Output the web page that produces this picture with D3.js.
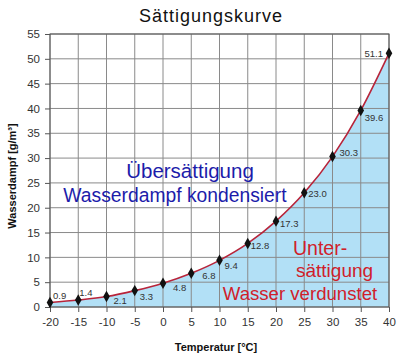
<!DOCTYPE html>
<meta charset="utf-8">
<head>
    <title>Sättigungskurve</title>
    <script src="https://cdn.jsdelivr.net/npm/d3@7"></script>
    <style>
        body { margin: 0; background: #fff; }
        text { font-family: Arial, "Liberation Sans", sans-serif; }
    </style>
</head>
<body>
<script>

// data
var temps = [-20, -15, -10, -5, 0, 5, 10, 15, 20, 25, 30, 35, 40]
var vapour = [0.9, 1.4, 2.1, 3.3, 4.8, 6.8, 9.4, 12.8, 17.3, 23.0, 30.3, 39.6, 51.1]
var xTicks = [-20, -15, -10, -5, 0, 5, 10, 15, 20, 25, 30, 35, 40]
var yTicks = [0, 5, 10, 15, 20, 25, 30, 35, 40, 45, 50, 55]

// label offsets (layout only), text start relative to marker
var labOff = [[3,-7],[1,-7],[7,4],[5,6],[10,5],[11,2],[5,5],[3,2],[4,3],[4,1],[7,-4],[4,7],[-6,0]]

var w = 400
var h = 356
var svg = d3.select("body").append("svg").attr("width", w).attr("height", h)

var x = d3.scaleLinear().domain([-20, 40]).range([50, 389])
var y = d3.scaleLinear().domain([0, 55]).range([307, 34])

var pts = temps.map(function(t, i) { return [t, vapour[i]] })

// area under curve
var area = d3.area()
    .x(function(d) { return x(d[0]) })
    .y0(y(0))
    .y1(function(d) { return y(d[1]) })
    .curve(d3.curveMonotoneX)
svg.append("path").attr("d", area(pts)).style("fill", "#b2e0f6")

// grid
svg.append("g").selectAll("line").data(xTicks).enter().append("line")
    .attr("x1", function(d) { return x(d) }).attr("x2", function(d) { return x(d) })
    .attr("y1", y(0)).attr("y2", y(55))
    .style("stroke", "#8a8a8a").style("stroke-width", 1)
svg.append("g").selectAll("line").data(yTicks).enter().append("line")
    .attr("x1", x(-20)).attr("x2", x(40))
    .attr("y1", function(d) { return y(d) }).attr("y2", function(d) { return y(d) })
    .style("stroke", "#8a8a8a").style("stroke-width", 1)

// border
svg.append("rect")
    .attr("x", x(-20)).attr("y", y(55))
    .attr("width", x(40) - x(-20)).attr("height", y(0) - y(55))
    .style("fill", "none").style("stroke", "#555").style("stroke-width", 1)

// axes
var fmt = function(d) { return String(d) }
svg.append("g").attr("transform", "translate(0," + y(0) + ")")
    .call(d3.axisBottom(x).tickValues(xTicks).tickFormat(fmt).tickSize(5).tickPadding(6))
svg.append("g").attr("transform", "translate(" + x(-20) + ",0)")
    .call(d3.axisLeft(y).tickValues(yTicks).tickFormat(fmt).tickSize(5).tickPadding(5))
svg.selectAll(".domain").remove()
svg.selectAll(".tick line").style("stroke", "#555")
svg.selectAll(".tick text").style("font-size", "11.5px").style("fill", "#333")
    .style("font-family", "Arial, 'Liberation Sans', sans-serif")

// curve
var line = d3.line()
    .x(function(d) { return x(d[0]) })
    .y(function(d) { return y(d[1]) })
    .curve(d3.curveMonotoneX)
svg.append("path").attr("d", line(pts))
    .style("fill", "none").style("stroke", "#b8243a").style("stroke-width", 1.6)

// markers
svg.append("g").selectAll("path").data(pts).enter().append("path")
    .attr("d", d3.symbol().type(d3.symbolDiamond).size(38))
    .attr("transform", function(d) { return "translate(" + x(d[0]) + "," + y(d[1]) + ")" })
    .style("fill", "#111")

// value labels
svg.append("g").selectAll("text").data(pts).enter().append("text")
    .attr("x", function(d, i) { return x(d[0]) + labOff[i][0] })
    .attr("y", function(d, i) { return y(d[1]) + labOff[i][1] })
    .attr("dy", "0.35em")
    .attr("text-anchor", function(d, i) { return labOff[i][0] < 0 ? "end" : "start" })
    .style("font-size", "9.5px").style("fill", "#333")
    .text(function(d) { return d[1].toFixed(1) })

// title
svg.append("text").attr("x", 211).attr("y", 22).attr("text-anchor", "middle")
    .style("font-size", "18px").style("letter-spacing", "1px").style("fill", "#111")
    .text("Sättigungskurve")

// axis titles
svg.append("text").attr("x", 216).attr("y", 351).attr("text-anchor", "middle")
    .style("font-size", "11px").style("font-weight", "bold").style("fill", "#111")
    .text("Temperatur [°C]")
svg.append("text").attr("transform", "translate(16,176) rotate(-90)").attr("text-anchor", "middle")
    .style("font-size", "11px").style("font-weight", "bold").style("fill", "#111")
    .text("Wasserdampf [g/m³]")

// annotations
svg.append("text").attr("x", 190).attr("y", 178).attr("text-anchor", "middle")
    .style("font-size", "20.5px").style("fill", "#1c1caa").text("Übersättigung")
svg.append("text").attr("x", 175).attr("y", 202).attr("text-anchor", "middle")
    .style("font-size", "19.3px").style("fill", "#1c1caa").text("Wasserdampf kondensiert")

svg.append("text").attr("x", 293).attr("y", 255)
    .style("font-size", "19.5px").style("fill", "#d0202a").text("Unter-")
svg.append("text").attr("x", 296).attr("y", 277)
    .style("font-size", "19px").style("fill", "#d0202a").text("sättigung")
svg.append("text").attr("x", 300).attr("y", 300).attr("text-anchor", "middle")
    .style("font-size", "18.6px").style("fill", "#d0202a").text("Wasser verdunstet")

</script>
</body>
</html>
